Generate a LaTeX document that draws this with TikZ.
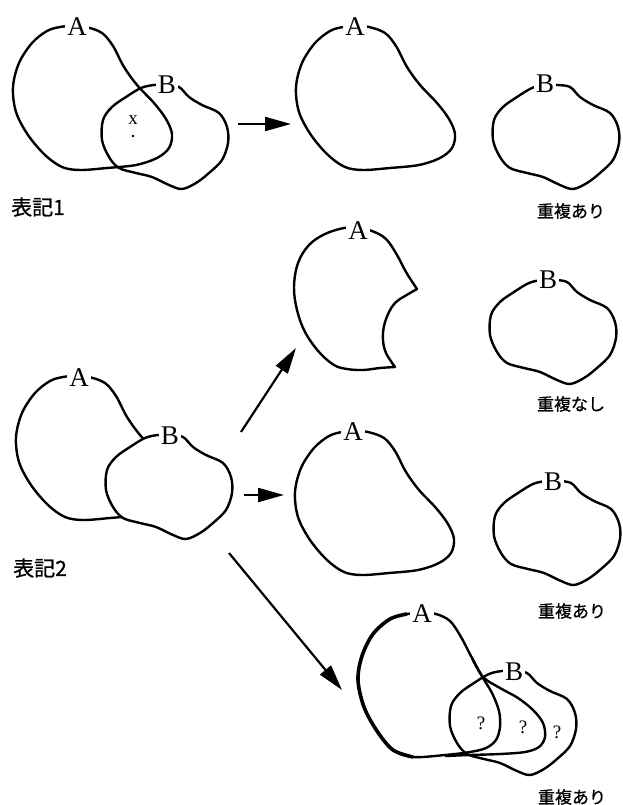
\documentclass[tikz,border=0pt]{standalone}
\usepackage{fontspec}
\setmainfont{Liberation Serif}
\newfontfamily\jp{Noto Sans CJK JP}[FakeBold=0.8]
\usetikzlibrary{arrows.meta}
\newcommand\blobA{plot[smooth cycle, tension=0.55] coordinates {(0,-1) (14,0) (30,6) (41,19) (52,40) (65,58) (82,76) (94,92) (100,107) (97,121) (85,131) (64,138) (35,141) (8,143) (-10,140) (-27,128) (-44,108) (-56,85) (-59,60) (-53,36) (-40,16) (-25,4) (-12,0)}}
\newcommand\blobB{plot[smooth cycle, tension=0.55] coordinates {(-10,1) (2,1) (15,3) (25,13) (38,21) (55,29) (63,43) (64,59) (58,76) (45,89) (32,99) (18,105) (5,101) (-12,93) (-28,89) (-45,84) (-55,73) (-62,56) (-61,36) (-52,23) (-38,13) (-23,4)}}
\tikzset{
  blob/.style={line width=2.4pt, line join=round},
  lbl/.style={fill=white, inner xsep=2pt, inner ysep=0.5pt, font=\fontsize{27}{27}\selectfont},
  arr/.style={line width=2.2pt, -{Triangle[length=26pt,width=14pt]}},
  capbig/.style={font=\jp\fontsize{21}{21}\selectfont, inner sep=0pt},
  capsmall/.style={font=\jp\fontsize{17}{17}\selectfont, inner sep=0pt},
  qm/.style={font=\fontsize{19}{19}\selectfont, inner sep=0pt},
}
\begin{document}
\begin{tikzpicture}[x=1pt,y=-1pt]
\useasboundingbox (0,0) rectangle (623,805);

% ---------- row 1 left: notation 1 ----------
\draw[blob, shift={(72,27)}] \blobA;
\draw[blob, shift={(164,84)}] \blobB;
\node[lbl] (a1) at (77,27) {A};
\node[lbl] (b1) at (167,85) {B};
\node[qm] (x1) at (133,120) {x};
\node[circle, fill, inner sep=0.9pt] (dot1) at (133,136) {};
\node[capbig] (h1) at (38,207) {表記1};

% ---------- row 1 right ----------
\draw[blob, shift={(355,27)}] \blobA;
\node[lbl] (a2) at (355,27) {A};
\draw[blob, shift={(555,84)}] \blobB;
\node[lbl] (b2) at (545,84) {B};
\node[capsmall] (t1) at (571,211) {重複あり};

\coordinate (s1) at (238,124);
\coordinate (e1) at (291,124);
\draw[arr] (s1) -- (e1);

% ---------- row 2 right: A minus B ----------
\draw[blob] plot[smooth, tension=0.6] coordinates {(395,367) (380,368) (363,370) (347,369) (334,365) (319,352) (305,332) (297,310) (294,287) (298,263) (309,245) (325,234) (344,228) (358,228) (372,231) (386,239) (397,255) (406,272) (417,289)}
  -- plot[smooth, tension=0.6] coordinates {(417,289) (405,296) (396,302) (389,312) (384,326) (383,340) (386,353) (395,367)} -- cycle;
\node[lbl] (a3) at (358,231) {A};
\draw[blob, shift={(552,279)}] \blobB;
\node[lbl] (b3) at (548,280) {B};
\node[capsmall] (t2) at (571,404) {重複なし};

% ---------- row 3 right ----------
\draw[blob, shift={(354,432)}] \blobA;
\node[lbl] (a4) at (353,432) {A};
\draw[blob, shift={(556,480)}] \blobB;
\node[lbl] (b4) at (553,482) {B};
\node[capsmall] (t3) at (572,611) {重複あり};

% ---------- notation 2 (union outline) ----------
\draw[blob, shift={(75,377)}] \blobA;
\filldraw[blob, fill=white, shift={(168,434)}] \blobB;
\node[lbl] (a5) at (79,378) {A};
\node[lbl] (b5) at (170,436) {B};
\node[capbig] (h2) at (40,568) {表記2};

\coordinate (s2) at (241,432);
\coordinate (e2) at (296,348);
\draw[arr] (s2) -- (e2);
\coordinate (s3) at (244,495);
\coordinate (e3) at (284,495);
\draw[arr] (s3) -- (e3);
\coordinate (s4) at (229,553);
\coordinate (e4) at (342,690);
\draw[arr] (s4) -- (e4);

% ---------- bottom: ambiguous A ----------
\draw[blob] plot[smooth cycle, tension=0.55] coordinates {(422,613) (436,614) (450,621) (461,637) (472,658) (483,678) (492,693) (499,711) (500,727) (496,740) (486,748) (470,752) (445,755) (413,757) (393,750) (377,731) (364,707) (358,680) (362,656) (373,634) (390,619) (407,614)};
\draw[blob] plot[smooth, tension=0.55] coordinates {(472,658) (483,677) (500,688) (518,698) (533,710) (543,723) (545,737) (539,747) (525,752) (500,754) (470,755) (445,756)};
\draw[line width=3.6pt] plot[smooth, tension=0.55] coordinates {(407,614) (390,619) (373,634) (362,656) (358,680) (364,707) (377,731) (393,750) (413,757)};
\draw[blob, shift={(512,670)}] \blobB;
\node[lbl] (a6) at (422,614) {A};
\node[lbl] (b6) at (514,672) {B};
\node[qm] (q1) at (481,723) {?};
\node[qm] (q2) at (523,727) {?};
\node[qm] (q3) at (557,732) {?};
\node[capsmall] (t4) at (572,797) {重複あり};
\end{tikzpicture}
\end{document}
